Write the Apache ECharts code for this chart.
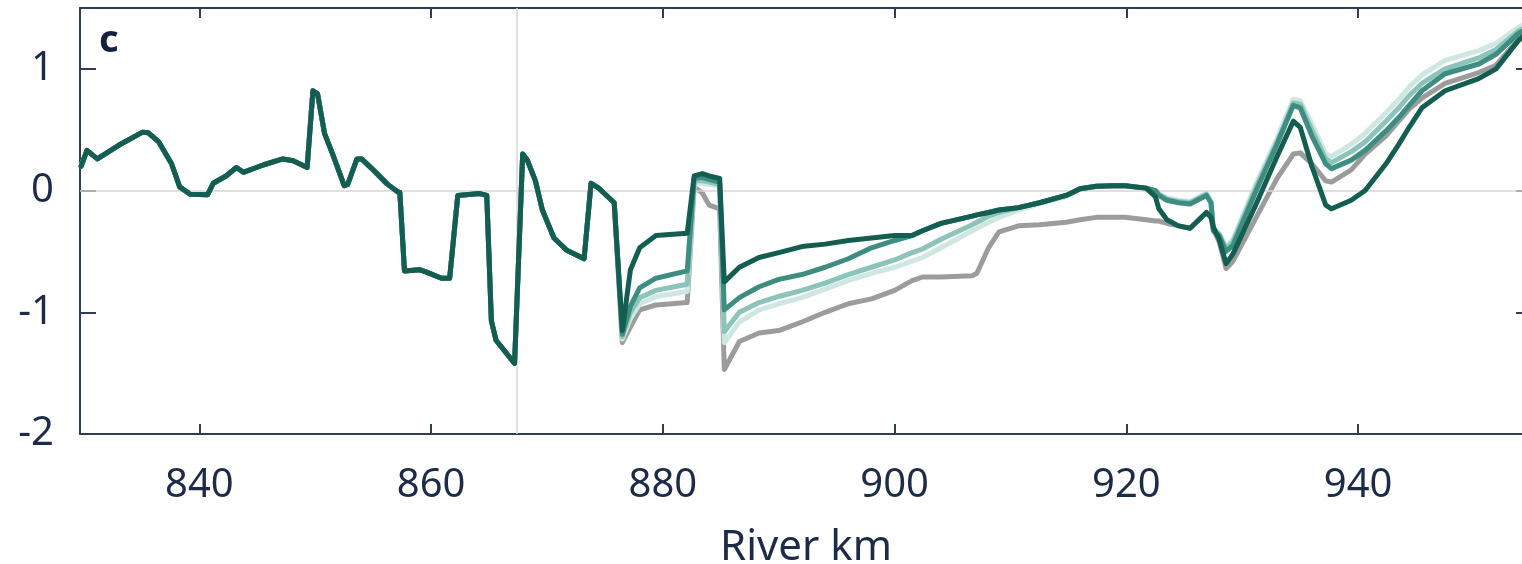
<!DOCTYPE html>
<html>
<head>
<meta charset="utf-8">
<script src="https://cdn.jsdelivr.net/npm/echarts@6/dist/echarts.min.js"></script>
<style>
html,body{margin:0;padding:0;background:#fff;}
#chart{width:1522px;height:564px;}
</style>
</head>
<body>
<div id="chart"></div>
<script>
// ---- Data ----
const xTicks = [840, 860, 880, 900, 920, 940];
const yTicks = [-2, -1, 0, 1];
const panelLabel = 'c';
const xName = 'River km';

// shared upstream part (all runs coincide)
const kmCommon = [829.8, 830.3, 831.2, 833.0, 835.1, 835.6, 836.5, 837.6, 838.3, 839.2,
  840.7, 841.2, 842.3, 843.2, 843.8, 845.5, 847.2, 848.1, 849.3, 849.8,
  850.2, 850.8, 851.5, 852.5, 852.8, 853.6, 854.0, 855.0, 856.2, 857.1,
  857.3, 857.7, 859.0, 859.6, 860.9, 861.6, 862.3, 864.2, 864.8, 865.2,
  865.6, 867.2, 867.9, 868.3, 869.0, 869.6, 870.6, 871.7, 873.2, 873.8,
  874.4, 875.8];
const valCommon = [0.20, 0.33, 0.26, 0.37, 0.48, 0.475, 0.40, 0.22, 0.03, -0.03,
  -0.035, 0.06, 0.12, 0.19, 0.15, 0.21, 0.26, 0.245, 0.19, 0.82,
  0.795, 0.47, 0.30, 0.04, 0.05, 0.26, 0.26, 0.17, 0.055, -0.01,
  -0.015, -0.66, -0.65, -0.67, -0.72, -0.72, -0.04, -0.025, -0.04, -1.07,
  -1.23, -1.42, 0.30, 0.25, 0.08, -0.16, -0.39, -0.49, -0.56, 0.06,
  0.025, -0.10];

// downstream part where the runs differ
const kmTail = [876.5, 877.2, 878.0, 879.4, 882.1, 882.7, 883.4, 884.0, 884.9, 885.3,
  886.6, 888.3, 890.0, 892, 894, 896, 898, 900, 901.5, 902.4,
  904, 906.7, 907.1, 908.1, 909.0, 910.7, 912.5, 914.8, 916, 917.4,
  918.8, 919.9, 921.7, 922.5, 922.8, 923.5, 924.5, 925.5, 926.9, 927.3,
  927.5, 928.0, 928.6, 929.2, 931.2, 933, 934.4, 935.0, 936.0, 937.2,
  937.7, 939.4, 940.6, 942.4, 943.5, 944.4, 945.5, 947.5, 950.4, 951.9,
  953.8, 955.0];

const greyTail = [-1.25, -1.12, -0.98, -0.94, -0.92, 0.03, -0.02, -0.12, -0.15, -1.47,
  -1.24, -1.17, -1.15, -1.08, -1.00, -0.93, -0.89, -0.82, -0.74, -0.71,
  -0.71, -0.70, -0.68, -0.47, -0.34, -0.29, -0.28, -0.26, -0.24, -0.22,
  -0.22, -0.22, -0.24, -0.25, -0.25, -0.27, -0.29, -0.31, -0.18, -0.22,
  -0.32, -0.42, -0.64, -0.58, -0.22, 0.10, 0.30, 0.31, 0.22, 0.08,
  0.07, 0.17, 0.30, 0.45, 0.57, 0.67, 0.76, 0.88, 0.97, 1.03,
  1.24, 1.32];
const palestTail = [-1.22, -1.05, -0.93, -0.87, -0.83, 0.06, 0.06, 0.05, 0.04, -1.25,
  -1.08, -0.98, -0.93, -0.88, -0.81, -0.74, -0.68, -0.63, -0.58, -0.55,
  -0.47, -0.33, -0.31, -0.26, -0.22, -0.16, -0.11, -0.05, 0.01, 0.03,
  0.035, 0.035, 0.015, 0.0, -0.03, -0.06, -0.08, -0.09, -0.02, -0.09,
  -0.31, -0.35, -0.46, -0.40, 0.06, 0.43, 0.75, 0.74, 0.55, 0.30,
  0.28, 0.38, 0.47, 0.64, 0.75, 0.85, 0.95, 1.07, 1.15, 1.21,
  1.34, 1.39];
const lightTail = [-1.20, -1.00, -0.88, -0.82, -0.77, 0.08, 0.08, 0.07, 0.05, -1.16,
  -1.00, -0.92, -0.87, -0.82, -0.76, -0.69, -0.63, -0.57, -0.51, -0.48,
  -0.40, -0.28, -0.26, -0.21, -0.18, -0.14, -0.10, -0.04, 0.015, 0.035,
  0.04, 0.04, 0.02, 0.0, -0.03, -0.07, -0.09, -0.10, -0.03, -0.10,
  -0.32, -0.36, -0.48, -0.42, 0.03, 0.40, 0.72, 0.71, 0.50, 0.26,
  0.23, 0.32, 0.40, 0.57, 0.68, 0.78, 0.88, 1.00, 1.09, 1.16,
  1.31, 1.37];
const mediumTail = [-1.18, -0.95, -0.80, -0.72, -0.66, 0.10, 0.11, 0.09, 0.07, -0.98,
  -0.88, -0.79, -0.73, -0.69, -0.63, -0.56, -0.47, -0.41, -0.37, -0.33,
  -0.27, -0.21, -0.20, -0.18, -0.16, -0.14, -0.10, -0.04, 0.015, 0.035,
  0.04, 0.04, 0.02, 0.0, -0.04, -0.08, -0.10, -0.11, -0.04, -0.10,
  -0.33, -0.37, -0.50, -0.45, 0.0, 0.38, 0.70, 0.68, 0.45, 0.22,
  0.18, 0.25, 0.33, 0.49, 0.60, 0.70, 0.82, 0.96, 1.04, 1.12,
  1.29, 1.35];
const darkTail = [-1.15, -0.65, -0.47, -0.37, -0.35, 0.12, 0.14, 0.12, 0.10, -0.75,
  -0.63, -0.55, -0.51, -0.46, -0.44, -0.41, -0.39, -0.37, -0.37, -0.33,
  -0.27, -0.21, -0.20, -0.18, -0.16, -0.14, -0.10, -0.04, 0.015, 0.035,
  0.04, 0.04, 0.02, -0.05, -0.15, -0.24, -0.29, -0.31, -0.18, -0.22,
  -0.30, -0.40, -0.60, -0.52, -0.11, 0.28, 0.57, 0.52, 0.20, -0.12,
  -0.15, -0.08, 0.0, 0.22, 0.38, 0.52, 0.68, 0.82, 0.92, 1.0,
  1.23, 1.33];

const refKm = 867.4;

// ---- Build ----
const km = kmCommon.concat(kmTail);
function pairs(tail) {
  const v = valCommon.concat(tail);
  return km.map((k, i) => [k, v[i]]);
}
const runs = [
  {name: 'grey', tail: greyTail, color: '#9c9c9c'},
  {name: 'palest', tail: palestTail, color: '#cfe7e3'},
  {name: 'light', tail: lightTail, color: '#8cc4ba'},
  {name: 'medium', tail: mediumTail, color: '#3d8e80'},
  {name: 'dark', tail: darkTail, color: '#135d51'}
];

const axisColor = '#2e3d56';
const textColor = '#1c2b47';
const fontFam = '"Noto Sans", "Open Sans", sans-serif';

const chart = echarts.init(document.getElementById('chart'), null, {renderer: 'canvas'});
const series = runs.map((r, idx) => ({
  type: 'line',
  name: r.name,
  data: pairs(r.tail),
  showSymbol: false,
  symbol: 'none',
  clip: true,
  z: 3 + idx,
  lineStyle: {color: r.color, width: 5, cap: 'round', join: 'round'},
  emphasis: {disabled: true}
}));
// reference lines
series.unshift({
  type: 'line', data: [], silent: true, z: 2,
  markLine: {
    silent: true, symbol: 'none', animation: false,
    label: {show: false},
    lineStyle: {color: '#d6d6d6', width: 1.5, type: 'solid'},
    data: [{yAxis: 0}, {xAxis: refKm}]
  }
});

const xMin = 829.7, xMax = 955;

chart.setOption({
  animation: false,
  backgroundColor: '#ffffff',
  grid: {left: 80, right: -10, top: 8, bottom: 130, containLabel: false, outerBoundsMode: 'none'},
  xAxis: [{
    type: 'value', min: xMin, max: xMax,
    position: 'bottom',
    name: xName, nameLocation: 'middle', nameGap: 93,
    nameTextStyle: {fontSize: 42, color: textColor, fontFamily: fontFam},
    axisLine: {show: true, onZero: false, lineStyle: {color: axisColor, width: 2}},
    axisTick: {show: true, inside: true, length: 10, lineStyle: {color: axisColor, width: 2}, customValues: xTicks},
    axisLabel: {fontSize: 40, color: textColor, fontFamily: fontFam, margin: 32, customValues: xTicks},
    splitLine: {show: false}
  }, {
    type: 'value', min: xMin, max: xMax,
    position: 'top',
    axisLine: {show: true, onZero: false, lineStyle: {color: axisColor, width: 2}},
    axisTick: {show: true, inside: true, length: 10, lineStyle: {color: axisColor, width: 2}, customValues: xTicks},
    axisLabel: {show: false},
    splitLine: {show: false}
  }],
  yAxis: [{
    type: 'value', min: -2, max: 1.5,
    position: 'left',
    axisLine: {show: true, onZero: false, lineStyle: {color: axisColor, width: 2}},
    axisTick: {show: true, inside: true, length: 16, lineStyle: {color: axisColor, width: 2}, customValues: yTicks},
    axisLabel: {fontSize: 40, color: textColor, fontFamily: fontFam, margin: 26, customValues: yTicks},
    splitLine: {show: false}
  }, {
    type: 'value', min: -2, max: 1.5,
    position: 'right',
    axisLine: {show: true, onZero: false, lineStyle: {color: axisColor, width: 2}},
    axisTick: {show: true, inside: true, length: 16, lineStyle: {color: axisColor, width: 2}, customValues: yTicks},
    axisLabel: {show: false},
    splitLine: {show: false}
  }],
  graphic: [{
    type: 'text', left: 99, top: 22,
    style: {text: panelLabel, fontSize: 38, fontWeight: 'bold', fill: '#14213d', fontFamily: fontFam}
  }],
  series: series
});
</script>
</body>
</html>
